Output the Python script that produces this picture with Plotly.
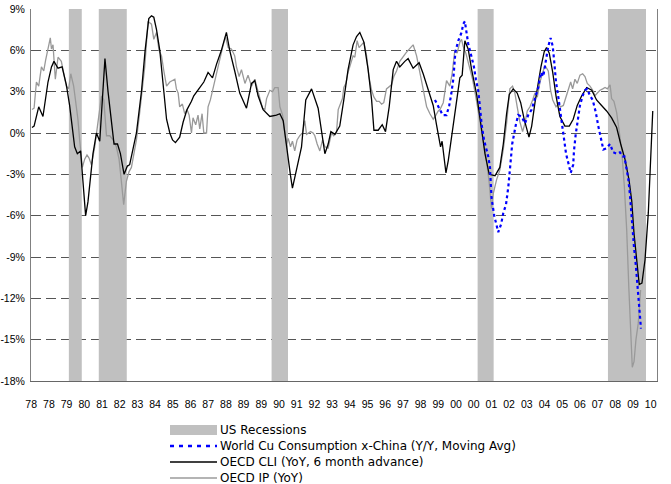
import plotly.graph_objects as go

# ---------------- data (decimal years, % values) ----------------
rec_start = [1979.95, 1981.50, 1990.45, 2001.12, 2007.87]
rec_end = [1980.62, 1982.95, 1991.30, 2001.95, 2009.84]

cli_x = [1978.04, 1978.15, 1978.39, 1978.61, 1978.87, 1979.05, 1979.18, 1979.39, 1979.60, 1979.82,
         1979.99, 1980.13, 1980.25, 1980.39, 1980.56, 1980.68, 1980.82, 1980.94, 1981.08, 1981.20,
         1981.38, 1981.55, 1981.69, 1981.82, 1981.98, 1982.16, 1982.29, 1982.47, 1982.62, 1982.81,
         1982.98, 1983.10, 1983.45, 1983.71, 1983.90, 1984.09, 1984.23, 1984.35, 1984.49, 1984.66,
         1984.87, 1985.01, 1985.18, 1985.32, 1985.47, 1985.69, 1985.87, 1986.07, 1986.30, 1986.42,
         1986.73, 1986.94, 1987.16, 1987.39, 1987.60, 1987.85, 1988.11, 1988.28, 1988.54, 1988.80,
         1989.15, 1989.41, 1989.58, 1989.75, 1990.01, 1990.36, 1990.70, 1990.88, 1991.05, 1991.17,
         1991.31, 1991.43, 1991.53, 1991.74, 1992.00, 1992.22, 1992.52, 1992.86, 1993.04, 1993.21,
         1993.38, 1993.52, 1993.73, 1993.98, 1994.19, 1994.41, 1994.67, 1994.85, 1995.02, 1995.23,
         1995.45, 1995.63, 1995.75, 1995.97, 1996.18, 1996.35, 1996.54, 1996.75, 1996.92, 1997.09,
         1997.35, 1997.52, 1997.78, 1998.09, 1998.30, 1998.56, 1998.82, 1998.99, 1999.20, 1999.28,
         1999.48, 1999.60, 1999.77, 1999.94, 2000.20, 2000.32, 2000.37, 2000.46, 2000.63, 2000.81,
         2001.07, 2001.33, 2001.50, 2001.72, 2002.02, 2002.27, 2002.45, 2002.62, 2002.76, 2002.96,
         2003.17, 2003.35, 2003.53, 2003.78, 2003.92, 2004.09, 2004.26, 2004.40, 2004.57, 2004.69,
         2004.83, 2005.01, 2005.18, 2005.38, 2005.64, 2005.87, 2006.07, 2006.28, 2006.51, 2006.77,
         2007.03, 2007.28, 2007.54, 2007.80, 2008.06, 2008.32, 2008.53, 2008.75, 2008.96, 2009.10,
         2009.22, 2009.36, 2009.49, 2009.63, 2009.79, 2009.96, 2010.05, 2010.19]
cli_y = [0.4, 0.5, 1.9, 1.2, 3.7, 4.8, 5.2, 4.7, 4.8, 3.5,
         2.0, 0.2, -1.0, -1.5, -1.3, -3.5, -6.0, -5.0, -3.0, -1.5,
         0.0, -0.6, 2.5, 5.4, 3.0, 0.8, -0.8, -0.8, -1.5, -3.0,
         -2.4, -2.3, 0.0, 3.0, 6.0, 8.3, 8.5, 8.4, 7.5, 6.0,
         3.0, 1.0, 0.0, -0.5, -0.7, -0.3, 0.8, 1.7, 2.3, 2.7,
         3.3, 3.7, 4.4, 4.0, 5.0, 6.0, 7.3, 6.0, 4.5, 2.9,
         1.8, 3.6, 3.8, 2.7, 1.7, 1.2, 1.3, 1.4, 0.9, -0.5,
         -1.9, -3.1, -4.0, -2.6, -1.0, 2.4, 3.2, 1.8, 0.0, -1.5,
         -0.8, 0.1, -0.1, 0.5, 2.4, 4.6, 6.4, 7.0, 7.3, 6.6,
         4.6, 2.4, 0.2, 0.2, 0.6, 0.1, 1.9, 4.6, 5.2, 4.8,
         5.2, 5.4, 4.7, 5.1, 4.3, 3.2, 2.0, 0.6, -1.0, -0.6,
         -2.9, -2.0, -0.4, 1.3, 4.0, 4.2, 5.2, 6.7, 6.1, 4.6,
         2.8, 0.2, -1.5, -3.0, -3.1, -2.5, -0.8, 1.4, 2.8, 3.2,
         2.9, 2.2, 1.0, -0.3, 0.5, 2.2, 3.8, 4.8, 5.9, 6.2,
         5.8, 4.4, 2.7, 1.2, 0.5, 0.5, 1.0, 2.0, 2.7, 3.3,
         3.1, 2.4, 2.0, 1.6, 1.1, 0.4, -0.8, -1.9, -3.4, -4.9,
         -7.3, -9.5, -11.0, -10.9, -9.2, -5.8, -3.2, 1.6]

ip_x = [1978.04, 1978.15, 1978.27, 1978.39, 1978.53, 1978.65, 1978.75, 1978.87, 1978.99, 1979.05,
        1979.13, 1979.25, 1979.39, 1979.56, 1979.68, 1979.82, 1979.94, 1980.05, 1980.20, 1980.31,
        1980.42, 1980.51, 1980.65, 1980.77, 1980.89, 1980.99, 1981.12, 1981.29, 1981.43, 1981.55,
        1981.64, 1981.76, 1981.90, 1982.07, 1982.24, 1982.41, 1982.55, 1982.67, 1982.79, 1982.93,
        1983.07, 1983.19, 1983.45, 1983.62, 1983.88, 1984.05, 1984.23, 1984.35, 1984.49, 1984.62,
        1984.75, 1984.87, 1985.01, 1985.18, 1985.35, 1985.44, 1985.52, 1985.61, 1985.69, 1985.83,
        1985.95, 1986.07, 1986.18, 1986.30, 1986.38, 1986.52, 1986.64, 1986.73, 1986.85, 1986.94,
        1987.08, 1987.16, 1987.28, 1987.39, 1987.51, 1987.63, 1987.77, 1987.91, 1988.06, 1988.20,
        1988.37, 1988.54, 1988.63, 1988.77, 1988.89, 1988.97, 1989.07, 1989.23, 1989.41, 1989.58,
        1989.70, 1989.84, 1989.98, 1990.10, 1990.19, 1990.36, 1990.50, 1990.62, 1990.79, 1990.88,
        1991.02, 1991.13, 1991.22, 1991.31, 1991.43, 1991.53, 1991.65, 1991.77, 1991.91, 1992.05,
        1992.17, 1992.26, 1992.47, 1992.60, 1992.69, 1992.81, 1992.95, 1993.09, 1993.21, 1993.38,
        1993.55, 1993.67, 1993.81, 1993.90, 1994.02, 1994.12, 1994.19, 1994.30, 1994.41, 1994.54,
        1994.67, 1994.76, 1994.88, 1994.98, 1995.11, 1995.23, 1995.37, 1995.49, 1995.63, 1995.75,
        1995.89, 1996.02, 1996.15, 1996.26, 1996.40, 1996.54, 1996.66, 1996.78, 1996.92, 1997.09,
        1997.23, 1997.40, 1997.52, 1997.65, 1997.78, 1997.96, 1998.09, 1998.22, 1998.35, 1998.48,
        1998.65, 1998.82, 1998.96, 1999.08, 1999.17, 1999.34, 1999.51, 1999.68, 1999.80, 1999.94,
        2000.06, 2000.20, 2000.29, 2000.37, 2000.51, 2000.68, 2000.86, 2001.03, 2001.20, 2001.38,
        2001.55, 2001.72, 2001.84, 2001.93, 2002.10, 2002.27, 2002.45, 2002.62, 2002.79, 2002.93,
        2003.05, 2003.17, 2003.31, 2003.45, 2003.57, 2003.69, 2003.83, 2003.97, 2004.09, 2004.21,
        2004.35, 2004.47, 2004.61, 2004.78, 2004.90, 2005.01, 2005.18, 2005.30, 2005.42, 2005.56,
        2005.70, 2005.81, 2005.94, 2006.04, 2006.16, 2006.28, 2006.42, 2006.56, 2006.68, 2006.80,
        2006.94, 2007.08, 2007.20, 2007.32, 2007.46, 2007.60, 2007.72, 2007.84, 2007.98, 2008.06,
        2008.18, 2008.32, 2008.46, 2008.58, 2008.72, 2008.84, 2008.95, 2009.05, 2009.13, 2009.22,
        2009.32, 2009.44, 2009.56]
ip_y = [1.7, 1.8, 3.7, 3.4, 4.8, 4.5, 5.3, 6.1, 6.9, 6.1,
        6.4, 3.9, 5.5, 5.2, 4.4, 3.4, 3.2, 4.3, 3.4, 2.3,
        1.0, -0.5, -2.5, -1.9, -1.6, -1.8, -2.3, -1.0, 0.5, 1.9,
        2.7, 2.4, -0.2, -0.2, -0.5, -1.0, -1.9, -3.5, -5.2, -3.5,
        -2.8, -2.5, -0.5, 1.5, 4.8, 8.1, 7.9, 6.8, 7.3, 6.0,
        5.6, 4.5, 3.4, 3.7, 3.8, 3.9, 3.2, 2.9, 1.9, 2.1,
        1.4, 1.7, 1.3, 0.0, 1.1, 0.6, 1.3, 0.3, 1.4, 0.0,
        0.0, 1.9, 2.4, 3.1, 3.8, 4.5, 5.5, 6.2, 7.0, 6.2,
        6.1, 5.6, 4.8, 4.1, 4.6, 4.1, 3.6, 4.2, 3.4, 3.9,
        3.3, 2.6, 1.8, 1.7, 2.5, 3.1, 3.0, 3.3, 3.3, 1.9,
        1.3, 0.1, -0.8, -0.4, -1.0, -0.6, -1.3, -0.5, -0.2, 0.0,
        0.9, -0.1, 0.1, 0.0, -0.2, -0.8, -1.3, -0.5, -1.0, -1.1,
        0.0, -0.2, 0.0, 1.7, 2.1, 2.5, 3.3, 3.6, 4.4, 5.1,
        5.6, 5.5, 6.7, 6.2, 6.4, 6.6, 5.6, 4.1, 3.1, 2.6,
        2.3, 2.3, 2.1, 2.2, 3.2, 3.4, 3.5, 4.1, 4.5, 5.2,
        5.5, 5.8, 6.0, 6.2, 6.4, 5.6, 4.6, 3.6, 2.8, 1.9,
        1.4, 1.0, 1.3, 1.6, 1.7, 2.2, 3.8, 3.4, 4.3, 6.0,
        5.8, 6.6, 6.8, 6.3, 5.8, 4.9, 3.9, 2.6, 1.2, -0.5,
        -1.7, -3.6, -5.5, -4.4, -3.4, -2.7, -1.2, 0.7, 3.2, 3.4,
        2.9, 1.9, 0.8, 0.1, 0.7, 1.6, 1.9, 2.4, 2.9, 2.6,
        3.7, 4.3, 4.9, 4.5, 3.1, 2.4, 1.9, 2.1, 1.9, 2.0,
        2.6, 3.1, 3.7, 3.2, 3.9, 3.6, 4.2, 4.3, 4.1, 3.6,
        3.4, 3.1, 2.7, 2.9, 3.1, 3.2, 3.3, 3.2, 3.5, 2.5,
        2.3, 1.5, 0.2, -1.2, -3.9, -7.0, -11.2, -15.0, -17.0, -16.6,
        -15.0, -13.8, -11.4]

cu_x = [1998.91, 1999.08, 1999.31, 1999.51, 1999.65, 1999.74, 1999.86, 1999.97, 2000.12, 2000.29,
        2000.37, 2000.46, 2000.55, 2000.63, 2000.81, 2000.93, 2001.03, 2001.15, 2001.24, 2001.33,
        2001.45, 2001.55, 2001.67, 2001.76, 2001.79, 2001.84, 2001.98, 2002.07, 2002.19, 2002.34,
        2002.45, 2002.59, 2002.66, 2002.71, 2002.79, 2002.91, 2003.10, 2003.22, 2003.40, 2003.57,
        2003.74, 2003.92, 2004.09, 2004.26, 2004.40, 2004.52, 2004.66, 2004.78, 2004.90, 2005.01,
        2005.08, 2005.18, 2005.30, 2005.42, 2005.56, 2005.70, 2005.84, 2005.94, 2006.07, 2006.11,
        2006.20, 2006.30, 2006.42, 2006.56, 2006.68, 2006.80, 2006.94, 2007.08, 2007.24, 2007.37,
        2007.51, 2007.63, 2007.80, 2007.98, 2008.14, 2008.32, 2008.49, 2008.63, 2008.72, 2008.84,
        2008.92, 2009.01, 2009.10, 2009.22, 2009.32, 2009.39, 2009.46, 2009.49, 2009.58]
cu_y = [2.4, 1.9, 1.3, 1.3, 2.0, 2.7, 3.9, 5.9, 6.7, 7.3,
        7.9, 8.1, 7.3, 6.5, 5.5, 4.8, 3.9, 3.1, 1.9, 0.6,
        -0.5, -1.0, -1.7, -2.5, -3.5, -4.7, -6.0, -6.6, -7.2, -6.6,
        -5.8, -5.2, -4.5, -3.9, -2.7, -0.8, 0.6, 1.3, 1.2, 0.7,
        1.3, 1.7, 2.5, 3.3, 4.4, 4.1, 5.3, 6.3, 6.9, 6.3,
        5.3, 3.7, 2.6, 1.3, -0.2, -1.5, -2.3, -2.9, -2.3, -1.3,
        -0.1, 1.0, 2.0, 2.7, 3.1, 3.2, 2.7, 2.4, 1.5, 0.5,
        -0.5, -1.2, -1.1, -0.8, -1.4, -1.5, -1.4, -1.7, -1.7, -2.6,
        -3.3, -4.5, -6.3, -8.3, -9.7, -10.9, -12.4, -13.0, -14.2]

tick_labels = ["78", "78", "79", "80", "81", "82", "83", "84", "85", "86", "87", "88",
               "89", "89", "90", "91", "92", "93", "94", "95", "96", "97", "98", "99",
               "00", "00", "01", "02", "03", "04", "05", "06", "07", "08", "09", "10"]
y_ticks = [9, 6, 3, 0, -3, -6, -9, -12, -15, -18]
y_labels = ["9%", "6%", "3%", "0%", "-3%", "-6%", "-9%", "-12%", "-15%", "-18%"]

# ---------------- figure ----------------
W, H = 671, 484
ML, MR, MT, MB = 31, 14, 9, 103
PW, PH = W - ML - MR, H - MT - MB
Y_MIN, Y_MAX = -18, 9

rx, ry = [], []
for s, e in zip(rec_start, rec_end):
    rx += [s, e, e, s, s, None]
    ry += [Y_MIN, Y_MIN, Y_MAX, Y_MAX, Y_MIN, None]

series = [
    dict(name="US Recessions", kind="box", color="#c0c0c0"),
    dict(name="World Cu Consumption x-China (Y/Y, Moving Avg)", kind="line",
         color="#0000ff", width=2.3, dash="4px,5px"),
    dict(name="OECD CLI (YoY, 6 month advance)", kind="line", color="#000000", width=1.3, dash="solid"),
    dict(name="OECD IP (YoY)", kind="line", color="#b4b4b4", width=2, dash="solid"),
]

fig = go.Figure()
fig.add_trace(go.Scatter(x=rx, y=ry, fill="toself", fillcolor="#c0c0c0", mode="lines",
                         line=dict(width=0, color="#c0c0c0"), name=series[0]["name"],
                         hoverinfo="skip"))
fig.add_trace(go.Scatter(x=ip_x, y=ip_y, mode="lines", line=dict(color="#999999", width=1.3),
                         name=series[3]["name"]))
fig.add_trace(go.Scatter(x=cli_x, y=cli_y, mode="lines", line=dict(color="#000000", width=1.3),
                         name=series[2]["name"]))
fig.add_trace(go.Scatter(x=cu_x, y=cu_y, mode="lines",
                         line=dict(color="#0000ff", width=2.2, dash="3px,3px"),
                         name=series[1]["name"]))

# hand-placed legend (pixel layout converted to paper coords)
def px(xp):
    return (xp - ML) / PW

def py(yp):
    return (H - MB - yp) / PH

shapes, annos = [], []
for i, s in enumerate(series):
    yc = 430 + 16 * i
    if s["kind"] == "box":
        shapes.append(dict(type="rect", xref="paper", yref="paper", x0=px(170), x1=px(217),
                           y0=py(yc + 5), y1=py(yc - 5), fillcolor=s["color"], line=dict(width=0),
                           layer="above"))
    else:
        shapes.append(dict(type="line", xref="paper", yref="paper", x0=px(170), x1=px(217),
                           y0=py(yc), y1=py(yc),
                           line=dict(color=s["color"], width=s["width"], dash=s["dash"])))
    annos.append(dict(xref="paper", yref="paper", x=px(218), y=py(yc), xanchor="left",
                      yanchor="middle", text=s["name"], showarrow=False,
                      font=dict(family="DejaVu Sans", size=12, color="#000000")))

tick_pos = [1978 + 11 * k / 12 for k in range(len(tick_labels))]

fig.update_layout(
    width=W, height=H,
    margin=dict(l=ML, r=MR, t=MT, b=MB, autoexpand=False),
    plot_bgcolor="white", paper_bgcolor="white",
    font=dict(family="Liberation Sans, Arial, sans-serif", color="#000000"),
    showlegend=False,
    shapes=shapes, annotations=annos,
    xaxis=dict(range=[1977.99, 2010.41], tickmode="array", tickvals=tick_pos,
               ticktext=tick_labels, tickangle=0, showgrid=False, zeroline=False,
               showline=True, linecolor="#666666", linewidth=1, ticks="", automargin=False,
               ticklabelstandoff=13,
               tickfont=dict(size=10.5, family="Liberation Sans, Arial, sans-serif")),
    yaxis=dict(range=[Y_MIN, Y_MAX], tickmode="array", tickvals=y_ticks, ticktext=y_labels,
               showgrid=True, gridcolor="#555555", gridwidth=1, griddash="10px,5px",
               zeroline=False, showline=True, linecolor="#808080", linewidth=1,
               mirror=True, ticks="", automargin=False, ticklabelstandoff=3,
               tickfont=dict(size=10.5, family="Liberation Sans, Arial, sans-serif")),
)

fig.write_html("out.html", config={"displayModeBar": False},
               post_script="document.body.style.margin='0px';")
